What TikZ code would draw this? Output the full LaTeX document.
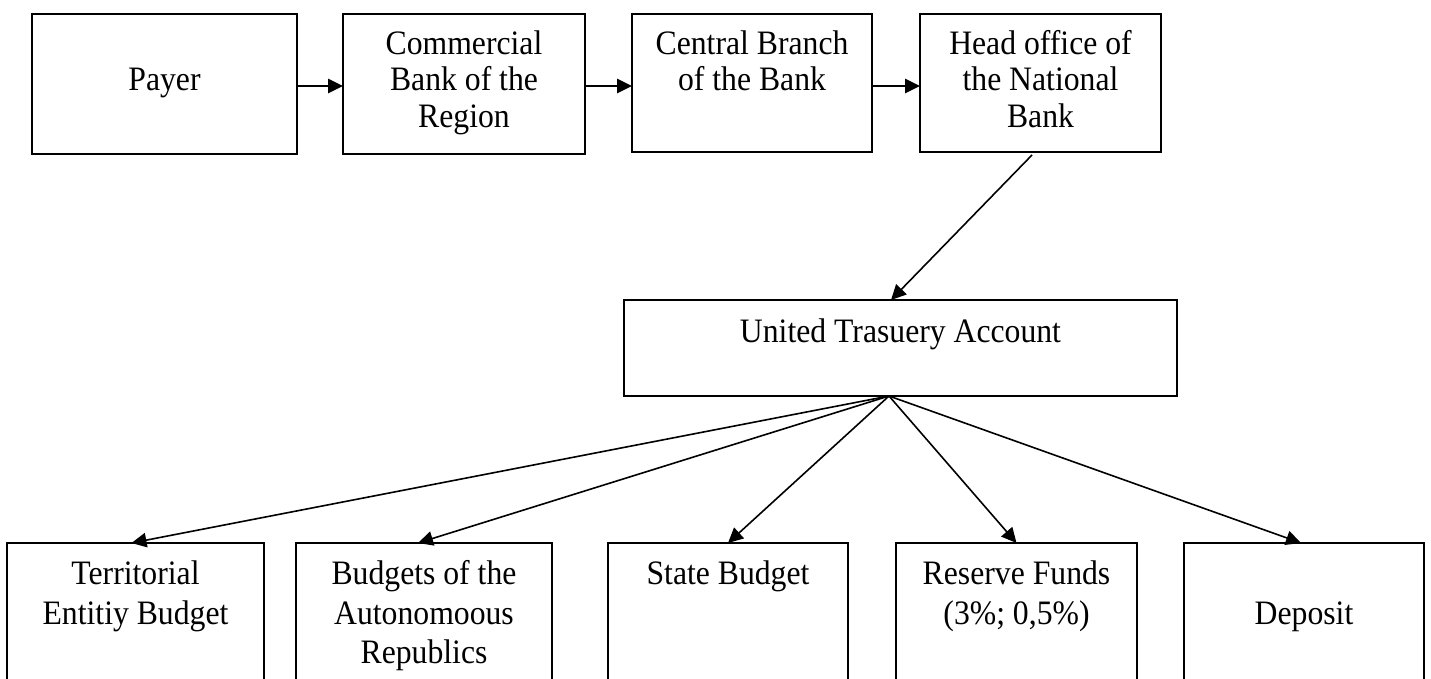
\documentclass[tikz,border=0pt]{standalone}
\usepackage{fontspec}
\setmainfont{Liberation Serif}
\usetikzlibrary{arrows.meta}
\tikzset{
  box/.style={draw, line width=1.7pt, rectangle, anchor=north west, inner sep=0pt, outer sep=0pt},
  lbl/.style={anchor=north, align=center, inner sep=0pt, yscale=1.08, transform shape, font=\fontsize{31.7}{34}\selectfont},
  lblb/.style={lbl, font=\fontsize{31.7}{36.4}\selectfont},
  arr/.style={-{Triangle[length=15pt,width=14.5pt]}, line width=1.6pt},
}
\newcommand{\fl}{\rule{0pt}{30pt}}
\begin{document}
\begin{tikzpicture}[x=1pt,y=-1pt]
\useasboundingbox (0,0) rectangle (1431,679);
\fill[white] (0,0) rectangle (1431,679);
\clip (0,0) rectangle (1431,679);
% top row
\node[box, minimum width=265pt, minimum height=140pt] (payer) at (32,14) {};
\node[box, minimum width=242pt, minimum height=140pt] (comm) at (343,14) {};
\node[box, minimum width=240pt, minimum height=138pt] (central) at (632,14) {};
\node[box, minimum width=241pt, minimum height=138pt] (head) at (920,14) {};
\node[lbl] (tpayer) at ([yshift=-7.6pt]payer.north) {\fl\\Payer};
\node[lbl] (tcomm) at ([yshift=-7.6pt]comm.north) {\fl Commercial\\Bank of the\\Region};
\node[lbl] (tcentral) at ([yshift=-7.6pt]central.north) {\fl Central Branch\\of the Bank};
\node[lbl] (thead) at ([yshift=-7.6pt]head.north) {\fl Head office of\\the National\\Bank};
% middle
\node[box, minimum width=553pt, minimum height=96pt] (uta) at (624,300) {};
\node[lbl] (tuta) at ([yshift=-9.6pt]uta.north) {\fl United Trasuery Account};
% bottom row
\node[box, minimum width=257pt, minimum height=200pt] (terr) at (7,543) {};
\node[box, minimum width=256pt, minimum height=200pt] (auto) at (296,543) {};
\node[box, minimum width=240pt, minimum height=200pt] (state) at (608,543) {};
\node[box, minimum width=241pt, minimum height=200pt] (res) at (896,543) {};
\node[box, minimum width=240pt, minimum height=200pt] (dep) at (1184,543) {};
\node[lblb] (tterr) at ([yshift=-9.1pt]terr.north) {\fl Territorial\\Entitiy Budget};
\node[lblb] (tauto) at ([yshift=-9.1pt]auto.north) {\fl Budgets of the\\Autonomoous\\Republics};
\node[lblb] (tstate) at ([yshift=-9.1pt]state.north) {\fl State Budget};
\node[lblb] (tres) at ([yshift=-9.1pt]res.north) {\fl Reserve Funds\\(3\%; 0,5\%)};
\node[lblb] (tdep) at ([yshift=-9.1pt]dep.north) {\fl\\Deposit};
% connectors
\draw[arr] ([yshift=-2pt]payer.east) -- ([yshift=-2pt]payer.east -| comm.west);
\draw[arr] ([yshift=-2pt]comm.east) -- ([yshift=-2pt]comm.east -| central.west);
\draw[arr] ([yshift=-3pt]central.east) -- ([yshift=-3pt]central.east -| head.west);
\draw[arr] ([xshift=-8.5pt,yshift=-3pt]head.south) -- ([xshift=-9.5pt]uta.north);
\coordinate (fan) at ([xshift=-11.5pt]uta.south);
\draw[arr] (fan) -- ([xshift=-4pt]terr.north);
\draw[arr] (fan) -- ([xshift=-6pt]auto.north);
\draw[arr] (fan) -- (state.north);
\draw[arr] (fan) -- (res.north);
\draw[arr] (fan) -- ([xshift=-3pt]dep.north);
\end{tikzpicture}
\end{document}
